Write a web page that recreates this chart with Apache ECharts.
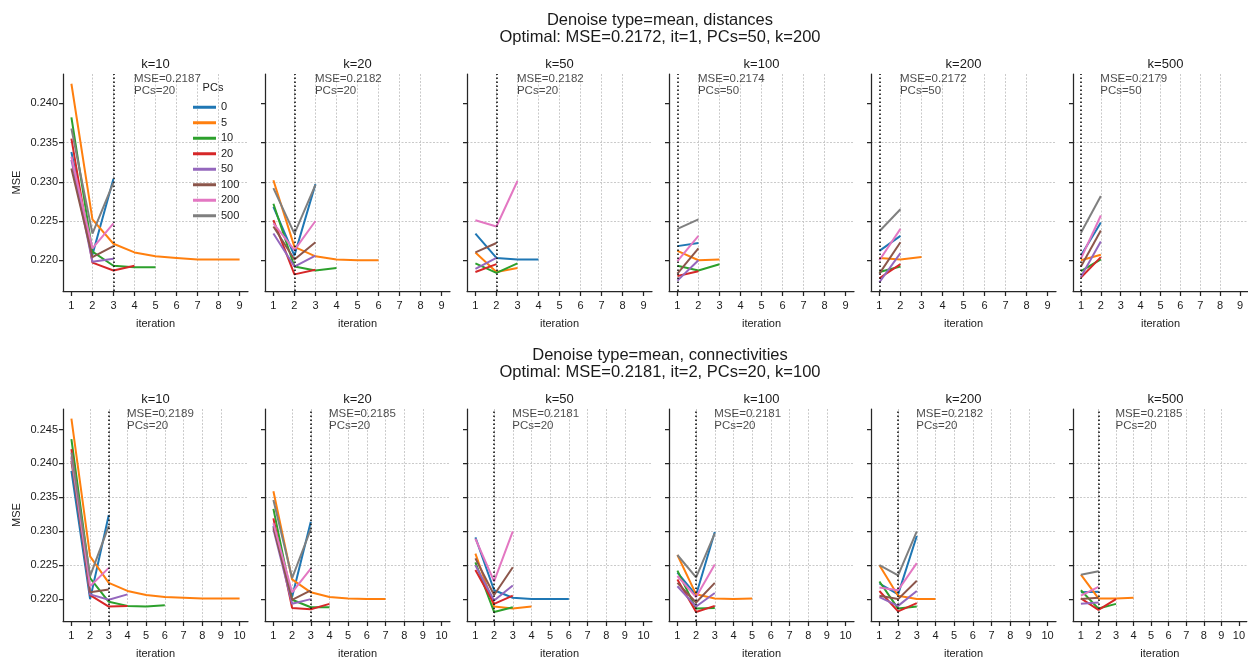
<!DOCTYPE html>
<html><head><meta charset="utf-8">
<script src="https://cdn.jsdelivr.net/npm/echarts@6/dist/echarts.min.js"></script>
<style>html,body{margin:0;padding:0;background:#fff}#c{width:1248px;height:660px}</style>
</head><body><div id="c"></div>
<script>
// ---------------- data ----------------
const pcsNames = ['0', '5', '10', '20', '50', '100', '200', '500'];
const palette = ['#1f77b4', '#ff7f0e', '#2ca02c', '#d62728', '#9467bd', '#8c564b', '#e377c2', '#7f7f7f'];
const kLabels = ['k=10', 'k=20', 'k=50', 'k=100', 'k=200', 'k=500'];

const xTicksTop = [1, 2, 3, 4, 5, 6, 7, 8, 9];
const xTicksBottom = [1, 2, 3, 4, 5, 6, 7, 8, 9, 10];
const yTicksTop = [0.220, 0.225, 0.230, 0.235, 0.240];
const yTicksBottom = [0.220, 0.225, 0.230, 0.235, 0.240, 0.245];

const distTitle = 'Denoise type=mean, distances';
const distOptimal = 'Optimal: MSE=0.2172, it=1, PCs=50, k=200';
const connTitle = 'Denoise type=mean, connectivities';
const connOptimal = 'Optimal: MSE=0.2181, it=2, PCs=20, k=100';

const distOptIt = [3, 2, 2, 1, 1, 1];
const distOptMSE = ['0.2187', '0.2182', '0.2182', '0.2174', '0.2172', '0.2179'];
const distOptPCs = ['20', '20', '20', '50', '50', '50'];
const connOptIt = [3, 3, 2, 2, 2, 2];
const connOptMSE = ['0.2189', '0.2185', '0.2181', '0.2181', '0.2182', '0.2185'];
const connOptPCs = ['20', '20', '20', '20', '20', '20'];

// MSE per iteration (iteration 1, 2, ...), one list per PCs value (0,5,10,20,50,100,200,500)
const distK10 = [
  [0.2338, 0.2207, 0.2304],
  [0.2425, 0.2252, 0.2221, 0.2210, 0.2205, 0.2203, 0.2201, 0.2201, 0.2201],
  [0.2382, 0.2211, 0.2193, 0.2191, 0.2191],
  [0.2355, 0.2197, 0.2187, 0.2193],
  [0.2328, 0.2198, 0.2202],
  [0.2317, 0.2204, 0.2218],
  [0.2332, 0.2215, 0.2247],
  [0.2368, 0.2234, 0.2299]
];
const distK20 = [
  [0.2268, 0.2206, 0.2297],
  [0.2302, 0.2217, 0.2205, 0.2201, 0.2200, 0.2200],
  [0.2272, 0.2192, 0.2187, 0.2190],
  [0.2251, 0.2182, 0.2188],
  [0.2234, 0.2192, 0.2206],
  [0.2243, 0.2201, 0.2223],
  [0.2247, 0.2213, 0.2250],
  [0.2292, 0.2234, 0.2296]
];
const distK50 = [
  [0.2234, 0.2203, 0.2201, 0.2201],
  [0.2210, 0.2185, 0.2190],
  [0.2196, 0.2184, 0.2196],
  [0.2185, 0.2195],
  [0.2189, 0.2203],
  [0.2210, 0.2222],
  [0.2251, 0.2243, 0.2301],
  []
];
const distK100 = [
  [0.2218, 0.2222],
  [0.2212, 0.2200, 0.2201],
  [0.2193, 0.2187, 0.2195],
  [0.2180, 0.2186],
  [0.2174, 0.2200],
  [0.2183, 0.2215],
  [0.2199, 0.2231],
  [0.2240, 0.2252]
];
const distK200 = [
  [0.2212, 0.2231],
  [0.2203, 0.2201, 0.2204],
  [0.2185, 0.2192],
  [0.2177, 0.2195],
  [0.2172, 0.2209],
  [0.2183, 0.2223],
  [0.2200, 0.2240],
  [0.2237, 0.2265]
];
const distK500 = [
  [0.2206, 0.2248],
  [0.2200, 0.2207],
  [0.2186, 0.2201],
  [0.2178, 0.2204],
  [0.2179, 0.2224],
  [0.2192, 0.2238],
  [0.2202, 0.2257],
  [0.2235, 0.2282]
];
const connK10 = [
  [0.2389, 0.2200, 0.2324],
  [0.2466, 0.2263, 0.2224, 0.2212, 0.2206, 0.2203, 0.2202, 0.2201, 0.2201, 0.2201],
  [0.2436, 0.2231, 0.2196, 0.2190, 0.2189, 0.2191],
  [0.2421, 0.2206, 0.2189, 0.2190],
  [0.2409, 0.2207, 0.2199, 0.2207],
  [0.2404, 0.2210, 0.2214],
  [0.2411, 0.2219, 0.2246],
  [0.2416, 0.2234, 0.2308]
];
const connK20 = [
  [0.2308, 0.2203, 0.2314],
  [0.2359, 0.2229, 0.2210, 0.2203, 0.2201, 0.2200, 0.2200],
  [0.2333, 0.2199, 0.2188, 0.2188],
  [0.2319, 0.2187, 0.2185, 0.2193],
  [0.2303, 0.2193, 0.2200],
  [0.2306, 0.2199, 0.2213],
  [0.2312, 0.2210, 0.2245],
  [0.2346, 0.2231, 0.2303]
];
const connK50 = [
  [0.2291, 0.2213, 0.2202, 0.2200, 0.2200, 0.2200],
  [0.2267, 0.2189, 0.2186, 0.2189],
  [0.2254, 0.2181, 0.2188],
  [0.2243, 0.2193, 0.2205],
  [0.2250, 0.2198, 0.2220],
  [0.2260, 0.2206, 0.2247],
  [0.2289, 0.2226, 0.2300],
  []
];
const connK100 = [
  [0.2239, 0.2206, 0.2299],
  [0.2265, 0.2207, 0.2201, 0.2200, 0.2201],
  [0.2242, 0.2186, 0.2187],
  [0.2229, 0.2181, 0.2190],
  [0.2219, 0.2189, 0.2209],
  [0.2224, 0.2195, 0.2224],
  [0.2234, 0.2203, 0.2251],
  [0.2265, 0.2232, 0.2297]
];
const connK200 = [
  [0.2223, 0.2207, 0.2293],
  [0.2250, 0.2205, 0.2200, 0.2200],
  [0.2226, 0.2186, 0.2189],
  [0.2212, 0.2182, 0.2194],
  [0.2203, 0.2190, 0.2212],
  [0.2205, 0.2200, 0.2227],
  [0.2217, 0.2213, 0.2253],
  [0.2250, 0.2235, 0.2300]
];
const connK500 = [
  [0.2210, 0.2211],
  [0.2236, 0.2201, 0.2201, 0.2202],
  [0.2213, 0.2186, 0.2193],
  [0.2201, 0.2184, 0.2200],
  [0.2193, 0.2195],
  [0.2200, 0.2202],
  [0.2205, 0.2218],
  [0.2236, 0.2241]
];

// ---------------- layout / style ----------------
const FONT = '"Liberation Sans", Arial, sans-serif';
const TXT = '#1a1a1a';
const AX = '#262626';
const GRIDC = '#c4c4c4';
const lefts = [63, 265, 467, 669, 871, 1073];
const W = 185, H = 217;

const rows = [
  { panels: [distK10, distK20, distK50, distK100, distK200, distK500],
    it: distOptIt, mse: distOptMSE, pcs: distOptPCs,
    xMin: 0.6, xMax: 9.4, xTicks: xTicksTop,
    yMin: 0.21608, yMax: 0.24374, yTicks: yTicksTop,
    top: 74, t1: distTitle, t2: distOptimal, titleY: 19 },
  { panels: [connK10, connK20, connK50, connK100, connK200, connK500],
    it: connOptIt, mse: connOptMSE, pcs: connOptPCs,
    xMin: 0.55, xMax: 10.45, xTicks: xTicksBottom,
    yMin: 0.21677, yMax: 0.24803, yTicks: yTicksBottom,
    top: 409, t1: connTitle, t2: connOptimal, titleY: 354 }
];

const grid = [], xAxis = [], yAxis = [], series = [], graphic = [];
let g = 0;
rows.forEach((row, r) => {
  graphic.push({ type: 'text', x: 660, y: row.titleY + 1, style: { text: row.t1, align: 'center', verticalAlign: 'middle', font: '16.5px ' + FONT, fill: TXT } });
  graphic.push({ type: 'text', x: 660, y: row.titleY + 18, style: { text: row.t2, align: 'center', verticalAlign: 'middle', font: '16.5px ' + FONT, fill: TXT } });
  row.panels.forEach((panel, c) => {
    grid.push({ left: lefts[c], top: row.top, width: W, height: H, containLabel: false });
    graphic.push({ type: 'text', x: lefts[c] + W / 2, y: row.top - 10, style: { text: kLabels[c], align: 'center', verticalAlign: 'middle', font: '13px ' + FONT, fill: TXT } });
    xAxis.push({
      gridIndex: g, type: 'value', min: row.xMin, max: row.xMax, minInterval: 1, maxInterval: 1,
      axisLine: { show: true, onZero: false, lineStyle: { color: AX, width: 1.25 } },
      axisTick: { show: true, length: 5, customValues: row.xTicks, lineStyle: { color: AX, width: 1.25 } },
      axisLabel: { show: true, customValues: row.xTicks, margin: 9, fontSize: 11, color: TXT, fontFamily: FONT, formatter: v => String(Math.round(v)) },
      splitLine: { show: true, showMinLine: false, showMaxLine: false, lineStyle: { color: GRIDC, type: [2, 1.5], width: 0.9 } },
      name: 'iteration', nameLocation: 'middle', nameGap: 27,
      nameTextStyle: { fontSize: 11, color: TXT, fontFamily: FONT }
    });
    yAxis.push({
      gridIndex: g, type: 'value', min: row.yMin, max: row.yMax, minInterval: 0.005, maxInterval: 0.005,
      axisLine: { show: true, onZero: false, lineStyle: { color: AX, width: 1.25 } },
      axisTick: { show: true, length: 4, customValues: row.yTicks, lineStyle: { color: AX, width: 1.25 } },
      axisLabel: { show: c === 0, customValues: row.yTicks, margin: 5, fontSize: 11, color: TXT, fontFamily: FONT, formatter: v => v.toFixed(3) },
      splitLine: { show: true, showMinLine: false, showMaxLine: false, lineStyle: { color: GRIDC, type: [2, 1.5], width: 0.9 } },
      name: c === 0 ? 'MSE' : '', nameLocation: 'middle', nameGap: 41, nameRotate: 90,
      nameTextStyle: { fontSize: 11, color: TXT, fontFamily: FONT }
    });
    panel.forEach((vals, p) => {
      series.push({
        type: 'line', name: pcsNames[p], xAxisIndex: g, yAxisIndex: g,
        data: vals.map((v, i) => [i + 1, v]),
        symbol: 'none', showSymbol: false, silent: true,
        lineStyle: { color: palette[p], width: 2 }, itemStyle: { color: palette[p] },
        emphasis: { disabled: true }
      });
    });
    series.push({
      type: 'scatter', xAxisIndex: g, yAxisIndex: g, silent: true, clip: false,
      data: [[row.it[c] + 1, row.yMax]], symbolSize: 1, itemStyle: { color: 'rgba(0,0,0,0)' },
      label: { show: true, position: [0, -1], align: 'left', verticalAlign: 'top', formatter: 'MSE=0' + row.mse[c].slice(1) + '\nPCs=' + row.pcs[c], fontSize: 11.5, lineHeight: 12, color: TXT, fontFamily: FONT },
      markLine: { silent: true, symbol: 'none', label: { show: false }, animation: false,
        lineStyle: { color: '#111', type: [1.5, 2.5], width: 1.6 },
        data: [{ xAxis: row.it[c] }] },
      z: 5
    });
    g++;
  });
});
graphic.push({ type: 'text', x: 213, y: 88, style: { text: 'PCs', align: 'center', verticalAlign: 'middle', font: '11px ' + FONT, fill: TXT } });

const chart = echarts.init(document.getElementById('c'), null, { renderer: 'canvas' });
chart.setOption({
  animation: false,
  backgroundColor: '#ffffff',
  grid, xAxis, yAxis, series, graphic,
  legend: {
    data: pcsNames, orient: 'vertical', left: 188, top: 96, icon: 'rect',
    itemWidth: 23, itemHeight: 3, itemGap: 3, selectedMode: false,
    textStyle: { fontSize: 11, color: TXT, fontFamily: FONT, lineHeight: 12.5 }
  }
});
</script></body></html>
